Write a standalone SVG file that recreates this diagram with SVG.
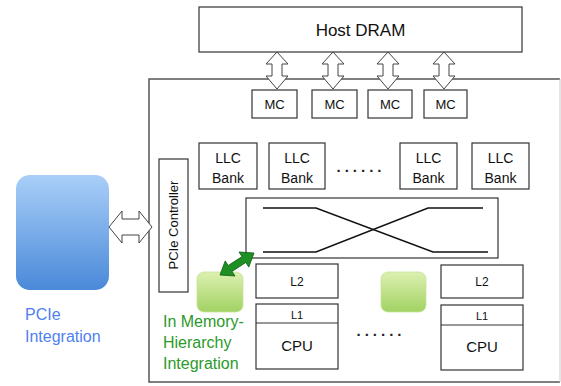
<svg xmlns="http://www.w3.org/2000/svg" width="561" height="386" viewBox="0 0 561 386">
<defs>
<linearGradient id="gBlue" x1="0" y1="0" x2="0" y2="1"><stop offset="0" stop-color="#a9cff8"/><stop offset="1" stop-color="#4a89d9"/></linearGradient>
<linearGradient id="gGreen" x1="0" y1="0" x2="0" y2="1"><stop offset="0" stop-color="#dcf0b0"/><stop offset="1" stop-color="#a2d263"/></linearGradient>
<style>
text{font-family:"Liberation Sans","DejaVu Sans",sans-serif;fill:#111;text-anchor:middle}
.box{fill:#fff;stroke:#333;stroke-width:1.2}
.blk{fill:#fff;stroke:#444;stroke-width:1}
.xbar{fill:none;stroke:#111;stroke-width:1.5}
.g{fill:#2a9a2a;text-anchor:start;font-size:16px}
.b{fill:#4f7ff0;text-anchor:start;font-size:16px}
.dots{font-size:15px;font-weight:bold;letter-spacing:4px;fill:#222}
</style>
</defs>
<rect width="561" height="386" fill="#fff"/>
<g id="chip">
<path d="M560,79 H149 V382 H560" fill="none" stroke="#555" stroke-width="1.5"/>
<line x1="560" y1="79" x2="560" y2="382" stroke="#ccc" stroke-width="1"/>
</g>
<g id="host-dram"><rect class="box" x="199" y="7" width="323" height="45"/><text x="360.5" y="36" font-size="17">Host DRAM</text></g>
<g id="mc1"><rect class="box" x="252" y="90" width="45" height="28"/><text x="274.5" y="109" font-size="13">MC</text></g>
<g id="mc2"><rect class="box" x="312" y="90" width="45" height="28"/><text x="334.5" y="109" font-size="13">MC</text></g>
<g id="mc3"><rect class="box" x="368" y="90" width="44" height="28"/><text x="390" y="109" font-size="13">MC</text></g>
<g id="mc4"><rect class="box" x="424" y="90" width="43" height="28"/><text x="445.5" y="109" font-size="13">MC</text></g>
<g id="llc1"><rect class="box" x="199" y="143" width="58" height="46"/><text x="228" y="163" font-size="14">LLC</text><text x="228" y="183" font-size="14">Bank</text></g>
<g id="llc2"><rect class="box" x="269" y="143" width="56" height="46"/><text x="297" y="163" font-size="14">LLC</text><text x="297" y="183" font-size="14">Bank</text></g>
<g id="llc-dots"><text class="dots" x="361" y="172">......</text></g>
<g id="llc3"><rect class="box" x="400" y="143" width="57" height="46"/><text x="428.5" y="163" font-size="14">LLC</text><text x="428.5" y="183" font-size="14">Bank</text></g>
<g id="llc4"><rect class="box" x="472" y="143" width="57" height="46"/><text x="500.5" y="163" font-size="14">LLC</text><text x="500.5" y="183" font-size="14">Bank</text></g>
<g id="pcie-controller"><rect class="box" x="159" y="159" width="29" height="133"/><text transform="translate(178,225) rotate(-90)" font-size="13">PCIe Controller</text></g>
<g id="crossbar"><rect class="box" x="246" y="198" width="252" height="60"/>
<polyline class="xbar" points="263,208 316,208 433,252 488,252"/>
<polyline class="xbar" points="263,252 316,252 428,208 483,208"/></g>
<g id="accel1"><rect x="197" y="272" width="46" height="40" rx="7" fill="url(#gGreen)" stroke="#c5e39a" stroke-width="0.8"/></g>
<g id="accel2"><rect x="381" y="272" width="45" height="40" rx="7" fill="url(#gGreen)" stroke="#c5e39a" stroke-width="0.8"/></g>
<g id="l2a"><rect class="box" x="256" y="264" width="82" height="34"/><text x="297" y="286" font-size="12">L2</text></g>
<g id="l2b"><rect class="box" x="441" y="265" width="82" height="33"/><text x="482" y="286" font-size="12">L2</text></g>
<g id="cpu1"><rect class="box" x="256" y="304" width="82" height="65"/><line x1="256" y1="323" x2="338" y2="323" stroke="#333" stroke-width="1.2"/><text x="297" y="319" font-size="11">L1</text><text x="297" y="351" font-size="15">CPU</text></g>
<g id="cpu-dots"><text class="dots" x="381" y="336">......</text></g>
<g id="cpu2"><rect class="box" x="441" y="305" width="82" height="65"/><line x1="441" y1="325" x2="523" y2="325" stroke="#333" stroke-width="1.2"/><text x="482" y="320" font-size="11">L1</text><text x="482" y="352" font-size="15">CPU</text></g>
<g id="pcie-device"><rect x="16" y="175" width="93" height="115" rx="14" fill="url(#gBlue)"/></g>
<g id="labels">
<text class="b" x="25" y="320">PCIe</text><text class="b" x="25" y="342">Integration</text>
<text class="g" x="163" y="327">In Memory-</text><text class="g" x="163" y="348">Hierarchy</text><text class="g" x="163" y="369">Integration</text>
</g>
<g id="connectors">
<polygon class="blk" points="277,52 288,64 282,64 282,76 288,76 277,89 266,76 272,76 272,64 266,64"/>
<polygon class="blk" points="333,52 344,64 338,64 338,76 344,76 333,89 322,76 328,76 328,64 322,64"/>
<polygon class="blk" points="388,52 399,64 393,64 393,76 399,76 388,89 377,76 383,76 383,64 377,64"/>
<polygon class="blk" points="444,52 455,64 449,64 449,76 455,76 444,89 433,76 439,76 439,64 433,64"/>
<polygon class="blk" points="109,227 122,211 122,219 139,219 139,211 152,227 139,243 139,235 122,235 122,243"/>
<polygon points="220,275 235,276 232,271.4 245.8,262.5 248.8,267.1 254,253 239,252 242,256.6 228.2,265.5 225.2,260.9" fill="#1f8f24" stroke="#0d5c10" stroke-width="0.8" stroke-linejoin="round"/>
</g>
</svg>
